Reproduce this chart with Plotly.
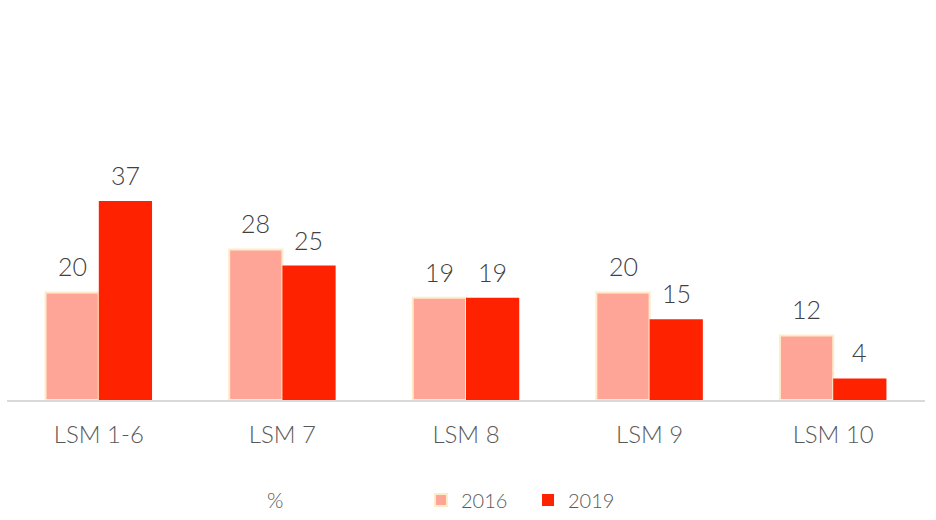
import plotly.graph_objects as go

categories = ["LSM 1-6", "LSM 7", "LSM 8", "LSM 9", "LSM 10"]
values_2016 = [20, 28, 19, 20, 12]
values_2019 = [37, 25, 19, 15, 4]

FONT = "Lato, 'Open Sans', sans-serif"
BAR_PX = 53  # approximate rendered width of one bar, used to place value labels

fig = go.Figure()
fig.add_trace(go.Bar(
    name="2016", x=categories, y=values_2016,
    marker=dict(color="#FFA598", line=dict(color="#FFEBC8", width=2)),
))
fig.add_trace(go.Bar(
    name="2019", x=categories, y=values_2019,
    marker=dict(color="#FF2200", line=dict(color="#FF2200", width=0)),
))

# value labels above each bar
for vals, shift in ((values_2016, -BAR_PX / 2), (values_2019, BAR_PX / 2)):
    for cat, v in zip(categories, vals):
        fig.add_annotation(x=cat, y=v, text=str(v), showarrow=False,
                           xshift=shift, yshift=9, yanchor="bottom",
                           font=dict(size=25, color="#404040", family=FONT, weight=300))

fig.add_annotation(text="%", xref="paper", yref="paper", x=0.292, y=-0.413,
                   showarrow=False, xanchor="center", yanchor="middle",
                   font=dict(size=21, color="#595959", family=FONT, weight=300))

fig.update_layout(
    width=936, height=520,
    margin=dict(l=7, r=11, t=158, b=120, autoexpand=False),
    barmode="group", bargap=0.42, bargroupgap=0,
    plot_bgcolor="white", paper_bgcolor="white",
    showlegend=True,
    legend=dict(orientation="h", x=0.451, y=-0.413, xanchor="left", yanchor="middle",
                font=dict(size=20, color="#595959", family=FONT, weight=300),
                itemwidth=30, entrywidth=62, entrywidthmode="pixels"),
    xaxis=dict(showline=True, linecolor="#D9D9D9", linewidth=2, ticks="",
               ticklabelstandoff=12,
               tickfont=dict(size=24, color="#595959", family=FONT, weight=300)),
    yaxis=dict(range=[0, 45], visible=False, showgrid=False, zeroline=False),
)

fig.write_html("out.html")
